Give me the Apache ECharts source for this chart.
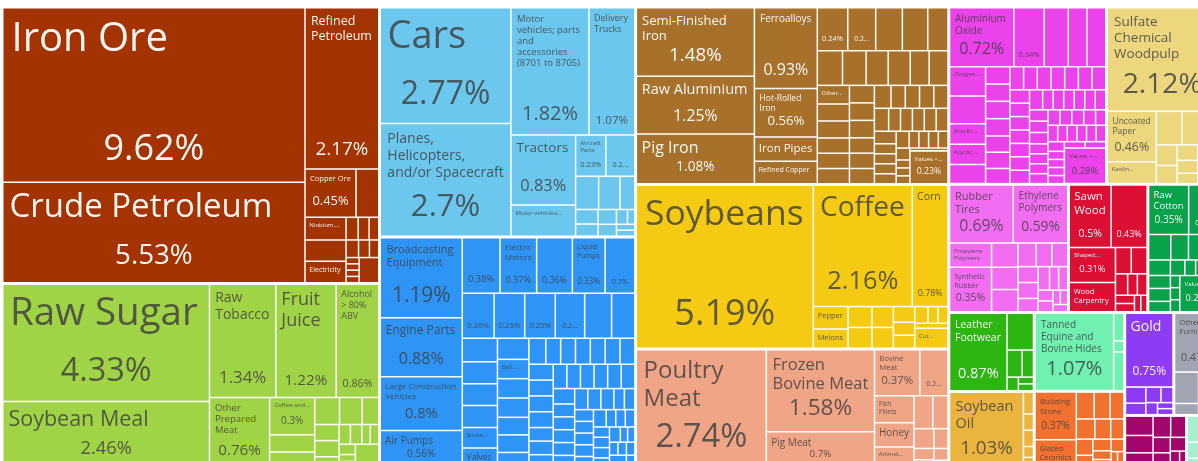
<!DOCTYPE html>
<html><head><meta charset="utf-8">
<script src="https://cdn.jsdelivr.net/npm/echarts@6/dist/echarts.min.js"></script>
<style>html,body{margin:0;padding:0;background:#fff;overflow:hidden}#c{width:1198px;height:461px}</style>
</head><body><div id="c"></div>
<script>
// ---------- DATA (shares of total exports, %) ----------
const sectorNames = ['Mineral Products','Foodstuffs','Transportation','Machines','Metals','Vegetable Products','Animal Products','Chemical Products','Paper Goods','Plastics and Rubbers','Wood Products','Textiles','Footwear and Headwear','Animal and Vegetable Bi-Products','Animal Hides','Stone And Glass','Precious Metals','Miscellaneous','Instruments','Arts and Antiques'];
const sectorShares = [18.58,12.47,10.48,10.58,9.90,9.17,6.69,4.98,3.52,2.73,1.81,1.60,1.20,1.18,1.27,1.25,0.90,0.81,0.59,0.30];

const mineralNames = ['Iron Ore','Crude Petroleum','Refined Petroleum','Copper Ore','Manganese Ore','Niobium, Tantalum, Vanadium and Zirconium Ore','Petroleum Coke','Electricity','Granite','Quartz','Petroleum Gas','Salt','Kaolin','Coal Tar Oil','Gypsum','Zinc Ore','Tin Ores','Sulphur','Other Ores'];
const mineralValues = [9.62,5.53,2.17,0.45,0.2,0.17,0.16,0.16,0.05,0.045,0.04,0.04,0.035,0.03,0.015,0.015,0.015,0.015,0.09];

const foodNames = ['Raw Sugar','Soybean Meal','Raw Tobacco','Fruit Juice','Alcohol > 80% ABV','Other Prepared Meat','Coffee and Tea Extracts','Animal Food','Cocoa Paste','Processed Tobacco','Other Edible Preparations','Cocoa Butter','Chocolate','Pasta','Sauces and Seasonings','Baked Goods','Hard Liquor','Processed Tomatoes','Beer','Rolled Tobacco','Wine','Vinegar','Other Processed Fruits and Nuts'];
const foodValues = [4.33,2.46,1.34,1.22,0.86,0.76,0.3,0.14,0.13,0.12,0.11,0.08,0.07,0.07,0.05,0.04,0.04,0.03,0.03,0.03,0.02,0.02,0.1];

const transportNames = ['Cars','Planes, Helicopters, and/or Spacecraft','Motor vehicles; parts and accessories (8701 to 8705)','Delivery Trucks','Tractors','Motor vehicles; bodies (including cabs)','Aircraft Parts','Buses','Motorcycles','Railway Cargo Containers','Trailers','Boats','Bicycles','Railway Passenger Cars','Ships','Motorcycle Parts','Aircraft Launch Gear','Railway Track Fixtures','Baby Carriages'];
const transportValues = [2.77,2.7,1.82,1.07,0.83,0.37,0.23,0.22,0.14,0.13,0.09,0.06,0.05,0.05,0.04,0.03,0.02,0.02,0.02];

const machinesNames = ['Broadcasting Equipment','Engine Parts','Large Construction Vehicles','Air Pumps',
 'Centrifuges','Electric Motors','Spark-Ignition Engines','Liquid Pumps','Transformers',
 'Refrigerators','Compression-Ignition Engines','Electrical Control Boards','Turbojets','Excavation Machinery','Gas Turbines',
 'Industrial Printers','Insulated Wire','Vacuum Cleaners','Harvesting Machinery','Stone Processing Machines','Valves',
 'Electric Generating Sets','Ball Bearings','Low-voltage Protection Equipment','Industrial Machinery','Computers','Telephones','Electrical Ignitions','Pulley Systems',
 'Packing Machinery','Lifting Machinery','Agricultural Machinery','Washing Machines','Electric Heaters','Electric Batteries','Semiconductor Devices','Integrated Circuits','Electrical Capacitors','Electric Motor Parts',
 'Industrial Furnaces','Dairy Machinery','Food Processing Machines','Weaving Machines','Sewing Machines','Machine Tools','Fork-Lifts','Cranes','Scales','Fans',
 'Taps','Gaskets','Pump Parts','Valve Parts','Turbine Parts','Printing Parts','Textile Machinery','Paper Machinery',
 'Calculators','Keyboards','Electric Switches','Relays','Fuses','Cables','Microphones','Video Displays',
 'Loudspeakers','Sound Recorders','Electric Bells','Electric Soldering Equipment','Sandblasting Machines','Water Heaters','Hand Dryers','Robots',
 'Drills','Saws','Lathes','Presses','Rolling Machines','Boilers','Steam Turbines','Nuclear Reactors'];
const machinesValues = [1.19,0.88,0.8,0.56,
 0.38,0.37,0.36,0.33,0.3,
 0.26,0.25,0.25,0.24,0.22,0.19,
 0.15,0.14,0.14,0.14,0.13,0.13,
 0.12,0.11,0.11,0.11,0.1,0.1,0.09,0.08,
 0.07,0.07,0.07,0.07,0.07,0.07,0.07,0.07,0.07,0.07,
 0.06,0.06,0.06,0.06,0.06,0.06,0.06,0.06,0.06,0.06,
 0.05,0.05,0.05,0.05,0.05,0.05,0.05,0.05,
 0.04,0.04,0.04,0.04,0.04,0.04,0.04,0.04,
 0.03,0.03,0.03,0.03,0.03,0.03,0.03,0.03,
 0.02,0.02,0.02,0.02,0.02,0.02,0.02,0.02];

const metalsNames = ['Semi-Finished Iron','Raw Aluminium','Pig Iron','Ferroalloys','Hot-Rolled Iron','Iron Pipes','Refined Copper','Flat-Rolled Stainless Steel','Large Flat-Rolled Iron','Iron Structures','Raw Iron Bars','Aluminium Bars','Iron Fasteners','Hand Tools','Other Iron Products','Coated Flat-Rolled Iron','Aluminium Plating','Iron Bars','Other Cast Iron Products','Copper Wire','Iron Wire','Stainless Steel Ingots','Raw Zinc','Raw Tin','Aluminium Foil','Iron Railway Products','Cutlery','Padlocks','Iron Sheet Piling','Iron Blocks','Cold-Rolled Iron','Iron Springs','Metal Molds','Copper Pipes','Aluminium Pipes','Iron Chain','Iron Cloth','Aluminium Cans','Iron Stovetops','Scrap Iron','Scrap Copper','Iron Reductions','Nickel Mattes','Knives','Tools','Base Metal Mountings','Nails','Saw Blades','Razor Blades','Scissors','Bells','Iron Anchors','Aluminium Wire','Copper Plating','Raw Lead','Titanium','Values < 0.1%'];
const metalsValues = [1.48,1.25,1.08,0.93,0.56,0.28,0.26,0.24,0.22,0.21,0.2,0.16,0.16,0.15,0.14,0.14,0.12,0.12,0.11,0.1,0.1,0.09,0.09,0.09,0.08,0.08,0.08,0.07,0.07,0.07,0.07,0.06,0.06,0.06,0.06,0.06,0.05,0.05,0.05,0.05,0.05,0.05,0.04,0.04,0.04,0.04,0.04,0.03,0.03,0.03,0.03,0.03,0.02,0.02,0.02,0.02,0.23];

const vegNames = ['Soybeans','Coffee','Corn','Pepper','Melons','Tropical Fruits','Other Nuts','Peanuts','Grapes','Rice','Sorghum','Beans','Cocoa Beans','Ginger','Other Oily Seeds','Tea','Cut Flowers'];
const vegValues = [5.19,2.16,0.78,0.14,0.12,0.09,0.09,0.08,0.08,0.06,0.05,0.05,0.04,0.03,0.03,0.03,0.12];

const animalNames = ['Poultry Meat','Frozen Bovine Meat','Pig Meat','Bovine Meat','Edible Offal','Fish Fillets','Honey','Animal Organs','Bird Eggs','Milk','Processed Fish','Butter','Cheese','Crustaceans','Frozen Fish','Concentrated Milk'];
const animalValues = [2.74,1.58,0.7,0.37,0.23,0.19,0.17,0.15,0.11,0.09,0.07,0.05,0.04,0.03,0.03,0.02];

const chemNames = ['Aluminium Oxide','Insecticides','Packaged Medicaments','Tanning Extracts','Essential Oils','Oxygen Amino Compounds','Medicaments','Acyclic Alcohols','Acyclic Hydrocarbons','Nitrogenous Fertilizers',
 'Carboxylic Acids','Soap','Vaccines','Glues','Paints','Perfumes','Cleaning Products',
 'Carbonates','Phosphatic Fertilizers','Sulfonated Compounds','Amides','Heterocyclic Compounds','Enzymes','Pigments',
 'Lubricating Products','Mixed Fertilizers','Potassic Fertilizers','Ink','Explosive Ammunition','Sulfuric Acid','Ethers','Phenols',
 'Ketones','Alcohols','Aldehydes','Halogens','Glycosides','Hormones','Vitamins','Dyes','Starches',
 'Casein','Albumins','Gelatin','Peptones','Activated Carbon','Rosin','Turpentine','Fungicides',
 'Herbicides','Disinfectants','Antibiotics','Blood','Glands','Catalysts','Silicon','Hydrogen',
 'Carbon','Sulphur Compounds','Chlorides','Sulfates','Nitrates','Phosphates','Values < 0.1%'];
const chemValues = [0.72,0.34,0.27,0.21,0.21,0.2,0.19,0.14,0.14,0.13,
 0.08,0.08,0.08,0.08,0.075,0.075,0.07,
 0.06,0.06,0.06,0.06,0.06,0.06,0.06,
 0.05,0.05,0.05,0.05,0.05,0.05,0.05,0.05,
 0.04,0.04,0.04,0.04,0.04,0.04,0.04,0.04,0.04,
 0.035,0.035,0.035,0.035,0.035,0.035,0.035,0.035,
 0.03,0.03,0.03,0.03,0.03,0.03,0.03,0.03,
 0.025,0.025,0.025,0.025,0.025,0.025,0.28];

const paperNames = ['Sulfate Chemical Woodpulp','Uncoated Paper','Kaolin Coated Paper','Paper Containers','Toilet Paper','Paper Labels','Printed Books','Paper Notebooks','Corrugated Paper','Newsprint','Wallpaper','Carbon Paper','Cigarette Paper','Recovered Paper','Paperboard','Other Printed Material'];
const paperValues = [2.12,0.46,0.2,0.16,0.12,0.1,0.08,0.07,0.06,0.05,0.04,0.04,0.03,0.03,0.02,0.02];

const plasticsNames = ['Rubber Tires','Ethylene Polymers','Propylene Polymers','Synthetic Rubber','Plastic Lids','Rubber Pipes','Polyacetals','Vinyl Chloride Polymers','Plastic Pipes','Raw Plastic Sheeting','Other Plastic Sheetings','Rubber Belting','Styrene Polymers','Plastic Housewares','Other Rubber Products','Other Plastic Products','Rubber Inner Tubes','Used Rubber Tires','Natural Polymers','Plastic Floor Coverings','Rubber Thread'];
const plasticsValues = [0.69,0.59,0.19,0.35,0.12,0.11,0.11,0.08,0.07,0.07,0.06,0.06,0.05,0.05,0.04,0.04,0.03,0.03,0.02,0.02,0.02];

const woodNames = ['Sawn Wood','Fibreboard','Shaped Wood','Wood Carpentry','Hardwood Lumber','Plywood','Particle Board','Wood Crates','Wood Frames','Wood Kitchenware','Fuel Wood','Wood Ornaments','Cork'];
const woodValues = [0.5,0.43,0.31,0.26,0.08,0.08,0.05,0.04,0.04,0.03,0.03,0.02,0.02];

const textileNames = ['Raw Cotton','Synthetic Filament Yarn','Cotton Yarn','House Linens','Synthetic Fabrics','Sisal Fibers','Heavy Pure Woven Cotton',"Knit Women's Suits",'Twine and Rope',"Non-Knit Men's Suits",'Knit Sweaters','Wool','Light Rubberized Knitted Fabric','Other Cotton Fabrics','Knit T-shirts','Towels','Bed Linens','Values < 0.1%'];
const textileValues = [0.35,0.25,0.1,0.08,0.07,0.06,0.06,0.05,0.05,0.04,0.04,0.03,0.03,0.03,0.02,0.02,0.02,0.24];

const footwearNames = ['Leather Footwear','Rubber Footwear','Textile Footwear','Footwear Parts','Other Footwear','Hats','Umbrellas'];
const footwearValues = [0.87,0.19,0.08,0.06,0.03,0.02,0.02];

const biproductNames = ['Soybean Oil','Other Vegetable Oils','Animal Fats','Vegetable Waxes','Margarine','Palm Oil'];
const biproductValues = [1.03,0.04,0.03,0.03,0.02,0.02];

const hidesNames = ['Tanned Equine and Bovine Hides','Equine Hides','Trunks and Cases','Other Leather Articles'];
const hidesValues = [1.07,0.05,0.02,0.07];

const stoneNames = ['Building Stone','Glazed Ceramics','Float Glass','Asbestos Fibres','Safety Glass','Glass Fibers','Cement Articles','Abrasive Powder','Mica','Slate','Mirrors','Glass Balls','Gypsum Articles','Ceramic Bricks','Refractory Ceramics','Glassware'];
const stoneValues = [0.37,0.22,0.09,0.08,0.07,0.07,0.06,0.05,0.05,0.04,0.04,0.03,0.03,0.03,0.02,0.02];

const preciousNames = ['Gold','Jewellery','Precious Stones','Silver','Platinum','Precious Metal Scraps','Coin','Pearls'];
const preciousValues = [0.75,0.07,0.05,0.05,0.04,0.03,0.02,0.02];

const miscNames = ['Other Furniture','Seats','Brooms','Mattresses','Pencils','Toys','Light Fixtures','Combs'];
const miscValues = [0.47,0.14,0.05,0.04,0.04,0.03,0.02,0.02];

const instrumentNames = ['Medical Instruments','Orthopedic Appliances','Other Measuring Instruments','Liquid Supply Meters','Optical Fibers','Thermostats','Dental Products','Lenses','X-Ray Equipment','Electrical Measuring Instruments'];
const instrumentValues = [0.1,0.09,0.08,0.07,0.06,0.05,0.05,0.04,0.03,0.02];

const artNames = ['Paintings',"Collector's Items",'Sculptures','Antiques'];
const artValues = [0.15,0.08,0.05,0.02];

const sectorItems = [
  [mineralNames, mineralValues], [foodNames, foodValues], [transportNames, transportValues], [machinesNames, machinesValues],
  [metalsNames, metalsValues], [vegNames, vegValues], [animalNames, animalValues], [chemNames, chemValues],
  [paperNames, paperValues], [plasticsNames, plasticsValues], [woodNames, woodValues], [textileNames, textileValues],
  [footwearNames, footwearValues], [biproductNames, biproductValues], [hidesNames, hidesValues], [stoneNames, stoneValues],
  [preciousNames, preciousValues], [miscNames, miscValues], [instrumentNames, instrumentValues], [artNames, artValues]
];

// ---------- STYLE ----------
const sectorColors = ['#A33300','#A1D346','#6BC7EE','#2E95F6','#A8712B','#F4CB12','#F0A586','#EC42EC','#EDD77E','#F36DF3','#DC0F34','#07A24A','#2DB512','#EBB43F','#70F0B1','#F3712F','#8E3BF6','#A1A4B3','#A2066C','#A6F0CF'];
const whiteText = [true,false,false,false,true,false,false,false,false,false,true,true,true,false,false,false,true,false,true,false];
const DARK = 'rgba(62,62,62,0.82)';
const LIGHT = 'rgba(255,255,255,0.95)';
const FONT_FAMILY = 'Open Sans';

const mctx = document.createElement('canvas').getContext('2d');
function measure(t, fs) { mctx.font = fs + 'px "' + FONT_FAMILY + '"'; return mctx.measureText(t).width; }
function wrapWords(name, fs, maxW) {
  const words = name.split(' ');
  const lines = []; let cur = '';
  for (const w of words) {
    if (measure(w, fs) > maxW) return null;
    const t = cur ? cur + ' ' + w : w;
    if (measure(t, fs) <= maxW) cur = t; else { lines.push(cur); cur = w; }
  }
  if (cur) lines.push(cur);
  return lines;
}
function pctText(v) { return parseFloat(v.toFixed(2)) + '%'; }

function buildLabel(name, value, w, h, color) {
  const pad = Math.max(3, Math.min(8, 3 + Math.min(w, h) * 0.03));
  const iw = w - 2 * pad, ih = h - 2 * pad;
  if (iw < 12 || ih < 8) return { show: false };
  const pfs = Math.min(36, 0.26 * w, 0.28 * h);
  const showP = w >= 26 && h >= 30 && pfs >= 6;
  const pLH = showP ? Math.ceil(pfs * 1.2) : 0;
  let lines = null, nfs = 0;
  if (w >= 28 && h >= 16) {
    const maxFs = showP ? Math.min(40, pfs * 1.2) : 40;
    const availH = showP ? Math.min(h * 0.55 - pad, ih - pLH - 2) : ih - 1;
    for (let fs = Math.floor(maxFs * 2) / 2; fs >= 6; fs -= 0.5) {
      const L = wrapWords(name, fs, iw);
      if (L && L.length * Math.ceil(fs * 1.15) <= availH) { lines = L; nfs = fs; break; }
    }
    if (!lines && availH >= Math.ceil(6 * 1.15)) {
      const words = name.split(' ');
      let cur = '';
      for (const wd of words) { const t = cur ? cur + ' ' + wd : wd; if (measure(t + '...', 6) <= iw) cur = t; else break; }
      if (cur) { lines = [cur + '...']; nfs = 6; }
    }
  }
  if (!lines && !showP) return { show: false };
  const nLH = Math.ceil(nfs * 1.15);
  const nameH = lines ? lines.length * nLH : 0;
  const parts = [];
  if (lines) lines.forEach(l => parts.push('{n|' + l + '}'));
  let sp = 0;
  if (showP) {
    sp = Math.floor(ih - nameH - pLH - 2);
    if (sp >= 1) parts.push('{s| }');
    parts.push('{p|' + pctText(value) + '}');
  }
  const text = parts.join('\n');
  return {
    show: true, position: 'insideTopLeft', distance: 0, padding: [pad, pad, pad, pad],
    overflow: 'truncate', color: color,
    formatter: () => text,
    rich: {
      n: { fontSize: nfs || 6, lineHeight: nLH || 7, fontFamily: FONT_FAMILY, color: color },
      s: { fontSize: 1, lineHeight: Math.max(sp, 1), fontFamily: FONT_FAMILY },
      p: { fontSize: pfs, lineHeight: pLH || 7, align: 'center', fontFamily: FONT_FAMILY, color: color }
    }
  };
}

function buildData(sizes) {
  return sectorNames.map((sn, si) => {
    const names = sectorItems[si][0], values = sectorItems[si][1];
    const col = sectorColors[si];
    const tc = whiteText[si] ? LIGHT : DARK;
    return {
      name: sn, value: sectorShares[si], itemStyle: { color: col },
      children: names.map((n, li) => {
        const item = { name: n, value: values[li], itemStyle: { color: col } };
        if (sizes && sizes[si] && sizes[si][li]) {
          const s = sizes[si][li];
          item.label = buildLabel(n, values[li], s[0], s[1], tc);
        } else item.label = { show: false };
        return item;
      })
    };
  });
}

function makeOption(sizes) {
  return {
    animation: false,
    series: [{
      type: 'treemap', left: 3.5, top: 8.5, width: 1213, height: 459,
      sort: false, roam: false, nodeClick: false, visibleMin: 0,
      breadcrumb: { show: false },
      label: { show: false },
      upperLabel: { show: false },
      itemStyle: { borderColor: '#fff' },
      levels: [
        { itemStyle: { borderWidth: 0, gapWidth: 3, borderColor: '#fff' } },
        { itemStyle: { borderWidth: 0, gapWidth: 1.5, borderColor: '#fff' } },
        { itemStyle: { borderWidth: 0 } }
      ],
      data: buildData(sizes)
    }]
  };
}

const chart = echarts.init(document.getElementById('c'), null, { renderer: 'canvas' });
chart.setOption(makeOption(null));
let sizes = null;
try {
  const root = chart.getModel().getSeriesByIndex(0).getData().tree.root;
  sizes = root.children.map(sec => (sec.children || []).map(leaf => {
    const l = leaf.getLayout();
    return l && l.width != null ? [l.width, l.height] : null;
  }));
} catch (e) { console.error(e); }
chart.setOption(makeOption(sizes), true);
</script></body></html>
